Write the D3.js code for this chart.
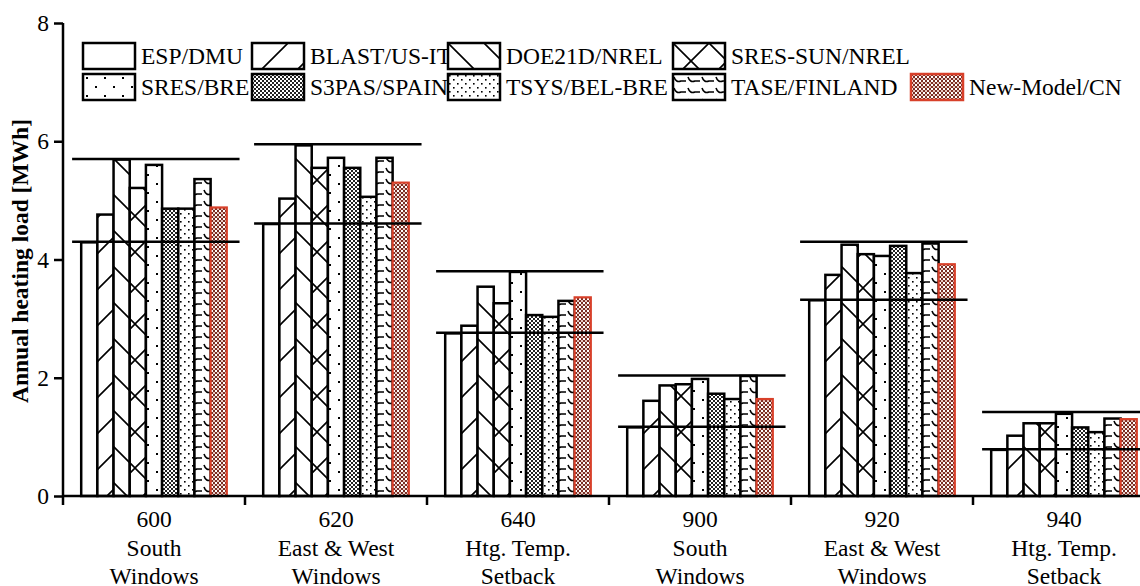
<!DOCTYPE html>
<html>
<head>
<meta charset="utf-8">
<script src="https://cdn.jsdelivr.net/npm/d3@7"></script>
<style>
  body { margin: 0; background: #fff; }
  svg { display: block; font-family: "Liberation Serif", "Times New Roman", serif; }
</style>
</head>
<body>
<svg id="chart" width="1140" height="586"></svg>
<script>
// Data (MWh)
const cases = ['600', '620', '640', '900', '920', '940'];
const caseLines = [
  ['600', 'South', 'Windows'],
  ['620', 'East & West', 'Windows'],
  ['640', 'Htg. Temp.', 'Setback'],
  ['900', 'South', 'Windows'],
  ['920', 'East & West', 'Windows'],
  ['940', 'Htg. Temp.', 'Setback']
];
const programs = ['ESP/DMU', 'BLAST/US-IT', 'DOE21D/NREL', 'SRES-SUN/NREL', 'SRES/BRE',
  'S3PAS/SPAIN', 'TSYS/BEL-BRE', 'TASE/FINLAND', 'New-Model/CN'];

const espDmu    = [4.29, 4.60, 2.75, 1.16, 3.31, 0.78];
const blast     = [4.76, 5.03, 2.88, 1.61, 3.74, 1.02];
const doe21d    = [5.69, 5.93, 3.54, 1.87, 4.25, 1.23];
const sresSun   = [5.21, 5.55, 3.26, 1.89, 4.09, 1.23];
const sresBre   = [5.60, 5.72, 3.79, 1.98, 4.06, 1.39];
const s3pas     = [4.86, 5.55, 3.06, 1.73, 4.23, 1.16];
const tsys      = [4.86, 5.06, 3.03, 1.64, 3.77, 1.08];
const tase      = [5.36, 5.72, 3.30, 2.03, 4.27, 1.31];
const newModel  = [4.88, 5.30, 3.36, 1.64, 3.92, 1.30];
const seriesValues = [espDmu, blast, doe21d, sresSun, sresBre, s3pas, tsys, tase, newModel];

// min / max reference lines per case
const refMax = [5.70, 5.95, 3.80, 2.04, 4.30, 1.42];
const refMin = [4.30, 4.61, 2.76, 1.17, 3.32, 0.79];

const yTicks = [0, 2, 4, 6, 8];

const red = '#d8402a';
const fs = 23.5;
const svg = d3.select('#chart');

// ---- patterns ----
const defs = svg.append('defs');
function pat(id, w, h, draw) {
  let p = defs.append('pattern').attr('id', id)
    .attr('patternUnits', 'userSpaceOnUse').attr('width', w).attr('height', h);
  p.append('rect').attr('width', w).attr('height', h).attr('fill', '#fff');
  draw(p);
}
const P = 36;
function fwd(p) {
  p.append('path').attr('d', `M0,${P}L${P},0M-9,9L9,-9M${P - 9},${P + 9}L${P + 9},${P - 9}`)
    .attr('stroke', '#000').attr('stroke-width', 1.6);
}
function back(p) {
  p.append('path').attr('d', `M0,0L${P},${P}M-9,${P - 9}L9,${P + 9}M${P - 9},-9L${P + 9},9`)
    .attr('stroke', '#000').attr('stroke-width', 1.6);
}
pat('p0', 10, 10, () => {});
pat('p1', P, P, fwd);
pat('p2', P, P, back);
pat('p3', P, P, p => { fwd(p); back(p); });
pat('p4', 18, 18, p => {
  p.append('rect').attr('x', 3).attr('y', 3).attr('width', 2).attr('height', 2).attr('fill', '#000');
  p.append('rect').attr('x', 12).attr('y', 12).attr('width', 2).attr('height', 2).attr('fill', '#000');
});
pat('p5', 4, 4, p => {
  p.append('rect').attr('width', 2).attr('height', 2).attr('fill', '#222');
  p.append('rect').attr('x', 2).attr('y', 2).attr('width', 2).attr('height', 2).attr('fill', '#222');
});
pat('p6', 8, 8, p => {
  p.append('rect').attr('x', 1).attr('y', 1).attr('width', 1.6).attr('height', 1.6).attr('fill', '#000');
  p.append('rect').attr('x', 5).attr('y', 5).attr('width', 1.6).attr('height', 1.6).attr('fill', '#000');
});
pat('p7', 14, 11, p => {
  p.append('path').attr('d', 'M1,3 Q3,9 8,7 L13,7')
    .attr('fill', 'none').attr('stroke', '#000').attr('stroke-width', 1.6);
});
pat('p8', 4, 4, p => {
  p.append('rect').attr('width', 2).attr('height', 2).attr('fill', '#7a2e24');
  p.append('rect').attr('x', 2).attr('y', 2).attr('width', 2).attr('height', 2).attr('fill', '#7a2e24');
  p.append('rect').attr('x', 2).attr('y', 0).attr('width', 2).attr('height', 2).attr('fill', '#e9c9c2');
});

// ---- scales ----
const x0 = d3.scaleBand().domain(cases).range([63, 1155]).padding(0);
const x1 = d3.scaleBand().domain(programs)
  .range([x0.bandwidth() * 0.1, x0.bandwidth() * 0.9]).padding(0);
const y = d3.scaleLinear().domain([0, 8]).range([496, 23]);

// ---- bars ----
const groups = svg.append('g').selectAll('g')
  .data(cases).join('g')
  .attr('transform', d => `translate(${x0(d)},0)`);

groups.selectAll('rect')
  .data((c, ci) => programs.map((p, pi) => ({ p: p, pi: pi, v: seriesValues[pi][ci] })))
  .join('rect')
  .attr('x', d => x1(d.p))
  .attr('y', d => y(d.v))
  .attr('width', x1.bandwidth())
  .attr('height', d => y(0) - y(d.v))
  .attr('fill', d => `url(#p${d.pi})`)
  .attr('stroke', d => d.pi === 8 ? red : '#000')
  .attr('stroke-width', d => d.pi === 8 ? 2.2 : 2.5);

// min / max lines
groups.each(function (c, ci) {
  let g = d3.select(this);
  let bw = x0.bandwidth();
  [refMax[ci], refMin[ci]].forEach(v => {
    g.append('line')
      .attr('x1', bw * 0.05).attr('x2', bw * 0.97)
      .attr('y1', y(v)).attr('y2', y(v))
      .attr('stroke', '#000').attr('stroke-width', 2.5);
  });
});

// ---- axes ----
const yAxis = svg.append('g')
  .attr('transform', 'translate(63,0)')
  .call(d3.axisLeft(y).tickValues(yTicks).tickSize(9).tickPadding(5).tickFormat(d3.format('d')));
yAxis.select('.domain').attr('stroke-width', 2.5).attr('d', `M0,${y(8)}V${y(0)}`);
yAxis.selectAll('.tick line').attr('stroke-width', 2.5);
yAxis.selectAll('.tick text').attr('font-size', fs).attr('font-family', 'Liberation Serif').attr('fill', '#000');

const xAxis = svg.append('g');
xAxis.append('line')
  .attr('x1', 62).attr('x2', 1160).attr('y1', y(0)).attr('y2', y(0))
  .attr('stroke', '#000').attr('stroke-width', 2.5);
xAxis.selectAll('line.tk')
  .data(cases.map(c => x0(c)).concat([x0(cases[5]) + x0.bandwidth()]))
  .join('line').attr('class', 'tk')
  .attr('x1', d => d).attr('x2', d => d)
  .attr('y1', y(0)).attr('y2', y(0) + 9)
  .attr('stroke', '#000').attr('stroke-width', 2.5);

const xLabels = xAxis.selectAll('text.lab')
  .data(cases).join('text').attr('class', 'lab')
  .attr('x', d => x0(d) + x0.bandwidth() / 2)
  .attr('text-anchor', 'middle')
  .attr('font-size', fs).attr('fill', '#000');
xLabels.each(function (c, ci) {
  let t = d3.select(this);
  caseLines[ci].forEach((s, k) => {
    t.append('tspan')
      .attr('x', x0(c) + x0.bandwidth() / 2)
      .attr('y', 527 + k * 28.5)
      .text(s);
  });
});

svg.append('text')
  .attr('transform', 'translate(28,261) rotate(-90)')
  .attr('text-anchor', 'middle')
  .attr('font-size', fs).attr('font-weight', 'bold')
  .text('Annual heating load [MWh]');

// ---- legend ----
const legCols = [83, 252, 448, 673, 911];
const legRows = [43, 74];
const legPos = [[0, 0], [1, 0], [2, 0], [3, 0], [0, 1], [1, 1], [2, 1], [3, 1], [4, 1]];

const leg = svg.append('g').selectAll('g')
  .data(programs).join('g')
  .attr('transform', (d, i) => `translate(${legCols[legPos[i][0]]},${legRows[legPos[i][1]]})`);
leg.append('rect')
  .attr('width', 52).attr('height', 26)
  .attr('fill', (d, i) => `url(#p${i})`)
  .attr('stroke', (d, i) => i === 8 ? red : '#000')
  .attr('stroke-width', 2.5);
leg.append('text')
  .attr('x', 58).attr('y', 21)
  .attr('font-size', fs).attr('fill', '#000')
  .text(d => d);
</script>
</body>
</html>
